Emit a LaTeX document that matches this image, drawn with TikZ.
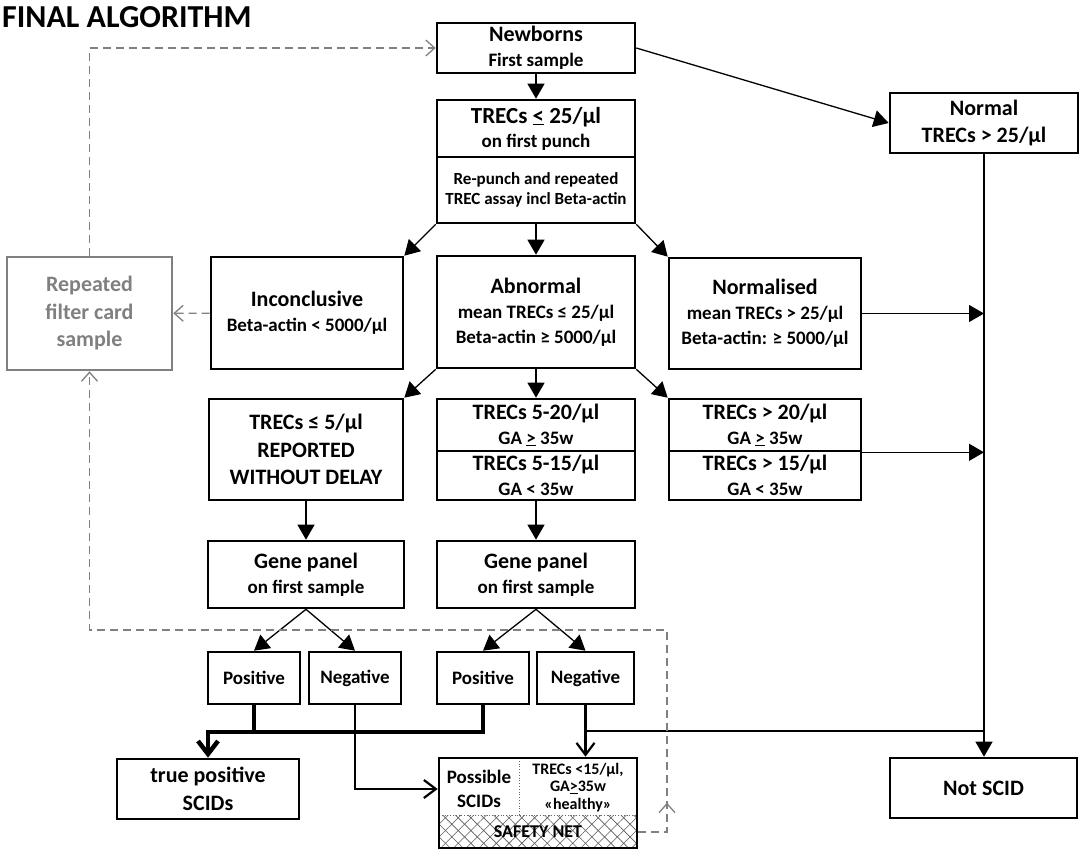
\documentclass[tikz,border=0pt]{standalone}
\usepackage{fontspec}
\setmainfont{Carlito}
\usetikzlibrary{arrows.meta,patterns.meta,decorations.markings}

\newcommand{\fhead}{\fontsize{22}{25}\selectfont}
\newcommand{\fsub}{\fontsize{19}{24}\selectfont}
\newcommand{\fsmall}{\fontsize{16}{17.5}\selectfont}

\begin{document}
\begin{tikzpicture}[x=1pt,y=-1pt]
\tikzstyle{box} = [draw,line width=2.6,align=center,inner sep=0,font=\bfseries\fhead];
\tikzstyle{wide} = [font=\bfseries\fontsize{22}{27.5}\selectfont];
\tikzstyle{greybox} = [box,draw=black!50,text=black!50];
\tikzstyle{plain} = [align=center,inner sep=0];
\tikzstyle{arr} = [line width=1.3,-{Triangle[length=15pt,width=17pt]}];
\tikzstyle{thinline} = [line width=1.3];
\tikzstyle{negarr} = [line width=2.2,-{Straight Barb[length=12pt,width=18pt]}];
\tikzstyle{negline} = [line width=2.2];
\tikzstyle{posline} = [line width=4.5];
\tikzstyle{posarr} = [line width=4.5,-{Straight Barb[length=13pt,width=20pt]}];
\tikzstyle{dashline} = [black!50,line width=1.3,dash pattern=on 8pt off 5pt];
\tikzstyle{dasharr} = [dashline,-{Straight Barb[length=9pt,width=16pt]}];
\useasboundingbox (0,0) rectangle (1084,856);

\node [plain,anchor=base west,font=\bfseries\fontsize{32}{36}\selectfont] (title) at (2,28) {FINAL ALGORITHM};

% first sample
\node [box,minimum width=198,minimum height=50] (v1) at (536,48) {Newborns\\{\fsub First sample}};
\node [box,minimum width=198,minimum height=57,font=\bfseries\fontsize{23}{24}\selectfont] (v2) at (536,128.5) {TRECs \underline{<} 25/µl\\{\fsub on first punch}};
\node [box,minimum width=198,minimum height=66,font=\bfseries\fontsize{17}{20}\selectfont] (v3) at (536,190) {Re-punch and repeated\\TREC assay incl Beta-actin};
\node [box,wide,minimum width=188,minimum height=60] (v4) at (984,123) {Normal\\TRECs > 25/µl};
\draw [arr] (v1) edge (v2);
\draw [arr] (v1.east) -- (v4.west);

% repeated assay
\node [greybox,wide,minimum width=165,minimum height=113] (v5) at (89.5,313.5) {Repeated\\filter card\\sample};
\node [box,minimum width=192,minimum height=112] (v6) at (307,313) {Inconclusive\\{\fsub Beta-actin < 5000/µl}};
\node [box,minimum width=198,minimum height=112] (v7) at (536,312) {Abnormal\\{\fsub mean TRECs ≤ 25/µl}\\{\fsub Beta-actin ≥ 5000/µl}};
\node [box,minimum width=192,minimum height=111] (v8) at (765,313.5) {Normalised\\{\fsub mean TRECs > 25/µl}\\{\fsub Beta-actin: ≥ 5000/µl}};
\draw [arr] (v3.south west) -- (v6.north east);
\draw [arr] (v3) edge (v7);
\draw [arr] (v3.south east) -- (v8.north west);
\draw [dasharr] (v6) edge (v5);
\draw [dasharr] (v5.north) |- (v1.west);
\draw [arr] (v8.east) -- (v8.east -| v4.south);

% abnormal split
\node [box,wide,minimum width=194,minimum height=101] (v9) at (306,449.5) {TRECs ≤ 5/µl\\REPORTED\\WITHOUT DELAY};
\node [box,minimum width=198,minimum height=52] (v10) at (536,425) {TRECs 5-20/µl\\{\fsub GA \underline{>} 35w}};
\node [box,minimum width=198,minimum height=49] (v11) at (536,475.5) {TRECs 5-15/µl\\{\fsub GA < 35w}};
\node [box,minimum width=192,minimum height=52] (v12) at (765,425) {TRECs > 20/µl\\{\fsub GA \underline{>} 35w}};
\node [box,minimum width=192,minimum height=49] (v13) at (765,475.5) {TRECs > 15/µl\\{\fsub GA < 35w}};
\draw [arr] (v7.south west) -- (v9.north east);
\draw [arr] (v7.south) -- (v10.north);
\draw [arr] (v7.south east) -- (v12.north west);
\draw [arr] (v12.south east) -- (v12.south east -| v4.south);

% gene panels
\node [box,minimum width=196,minimum height=67] (v14) at (306,574.5) {Gene panel\\{\fsub on first sample}};
\node [box,minimum width=198,minimum height=67] (v15) at (536,574.5) {Gene panel\\{\fsub on first sample}};
\draw [arr] (v9) edge (v14);
\draw [arr] (v11) edge (v15);
\node [box,font=\bfseries\fsub,minimum width=92,minimum height=52] (v16) at (254,678) {Positive};
\node [box,font=\bfseries\fsub,minimum width=92,minimum height=52] (v17) at (355,678) {Negative};
\node [box,font=\bfseries\fsub,minimum width=92,minimum height=52] (v18) at (483,678) {Positive};
\node [box,font=\bfseries\fsub,minimum width=97,minimum height=52] (v19) at (585.5,678) {Negative};
\draw [arr] (v14.south) -- (v16.north);
\draw [arr] (v14.south) -- (v17.north);
\draw [arr] (v15.south) -- (v18.north);
\draw [arr] (v15.south) -- (v19.north);

% outcomes
\node [box,wide,minimum width=182,minimum height=60] (v20) at (208,789) {true positive\\SCIDs};
\node [box,minimum width=198,minimum height=90,path picture={
  \fill [pattern={Lines[angle=45,distance=9pt,line width=0.6pt]},pattern color=black!65]
    (path picture bounding box.south west) rectangle ([yshift=33pt]path picture bounding box.south east);
  \fill [pattern={Lines[angle=-45,distance=9pt,line width=0.6pt]},pattern color=black!65]
    (path picture bounding box.south west) rectangle ([yshift=33pt]path picture bounding box.south east);
  \draw [black!60,line width=0.8,dotted] ([yshift=33pt]path picture bounding box.south west) -- ([yshift=33pt]path picture bounding box.south east);
  \draw [black!60,line width=0.8,dotted] ([xshift=80pt]path picture bounding box.north west) -- ([xshift=80pt,yshift=33pt]path picture bounding box.south west);
}] (v21) at (538,803) {};
\node [plain,font=\bfseries\fsub] (v21a) at (479,788.5) {Possible\\SCIDs};
\node [plain,font=\bfseries\fsmall] (v21b) at (578,787.5) {TRECs <15/µl,\\GA\underline{>}35w\\«healthy»};
\node [plain,font=\bfseries\fontsize{18}{20}\selectfont] (v21c) at (538,832) {SAFETY NET};
\node [box,minimum width=187,minimum height=60] (v22) at (983.5,788) {Not SCID};
\coordinate (j1) at (208,732);
\coordinate (j2) at (984,731);
\coordinate (d1) at (667,630);
\draw [posline] (v16.south) -- (v16.south |- j1);
\draw [posarr] (v18.south) |- (j1) -- (v20.north);
\draw [negarr] (v17.south) |- ([yshift=14pt]v21.west);
\draw [negarr] (v19.south) -- (v19.south |- v21.north);
\draw [negline] (v19.south |- j2) -- (j2);
\draw [arr] (v4.south) -- (v4.south |- v22.north);
\draw [dasharr,postaction={decorate},decoration={markings,mark=at position 58pt with {\arrow{Straight Barb[length=9pt,width=16pt]}}}] ([yshift=-29pt]v21.east) -| (d1) -| (v5.south);
\end{tikzpicture}
\end{document}
